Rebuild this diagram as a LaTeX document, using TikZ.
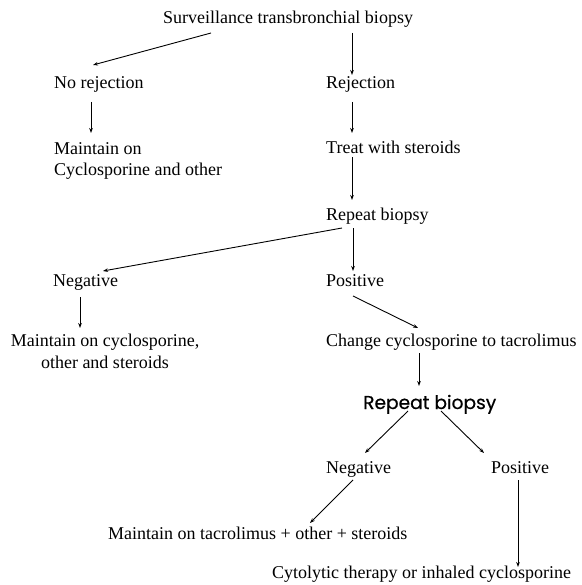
\documentclass[tikz,border=0pt]{standalone}
\usepackage{fontspec}
\setmainfont{Liberation Serif}
\newfontfamily\gothic[FakeBold=0.6]{Poppins}
\usetikzlibrary{arrows.meta}

\begin{document}
\begin{tikzpicture}[
  x=1pt, y=-1pt,
  >={Stealth[length=5pt,width=3.6pt]},
  txt/.style={inner sep=0pt, font=\fontsize{18}{21.5}\selectfont, anchor=base west},
  twoline/.style={inner sep=0pt, font=\fontsize{18}{21.5}\selectfont},
  sans/.style={inner sep=0pt, font=\gothic\fontsize{18.6}{22}\selectfont, anchor=base west},
  flow/.style={->, line width=0.9pt}
]
\useasboundingbox (0,0) rectangle (581,585);

\node[txt, anchor=base] (title) at (288,24) {Surveillance transbronchial biopsy};
\node[txt] (norej) at (54,89)  {No rejection};
\node[txt] (rej)   at (326,89) {Rejection};
\node[twoline, align=left, anchor=north west] (keepcyc) at (54,142) {Maintain on\\Cyclosporine and other};
\node[txt] (steroid) at (326,154) {Treat with steroids};
\node[txt] (rebiop)  at (326,220) {Repeat biopsy};
\node[txt] (neg) at (53,286)  {Negative};
\node[txt] (pos) at (326,286) {Positive};
\node[twoline, align=center, anchor=north] (keepall) at (105,334) {Maintain on cyclosporine,\\other and steroids};
\node[txt] (switch) at (326,346) {Change cyclosporine to tacrolimus};
\node[sans] (rebiopB) at (363,409) {Repeat biopsy};
\node[txt] (negB) at (326,473) {Negative};
\node[txt] (posB) at (491,473) {Positive};
\node[txt] (keeptac) at (108,539) {Maintain on tacrolimus + other + steroids};
\node[txt] (cyto) at (272,578) {Cytolytic therapy or inhaled cyclosporine};

% first biopsy
\draw[flow] ([xshift=-77pt,yshift=-9pt]title.base) -- ([xshift=39pt,yshift=24pt]norej.base west);
\draw[flow] ([xshift=64pt,yshift=-9pt]title.base) -- ([xshift=26pt,yshift=14pt]rej.base west);
\draw[flow] ([xshift=37pt,yshift=-13pt]norej.base west) -- ([xshift=37pt,yshift=9pt]keepcyc.north west);
\draw[flow] ([xshift=26pt,yshift=-13pt]rej.base west) -- ([xshift=26pt,yshift=21pt]steroid.base west);
\draw[flow] ([xshift=26pt,yshift=-3pt]steroid.base west) -- ([xshift=26pt,yshift=20pt]rebiop.base west);

% repeat biopsy
\draw[flow] ([xshift=16pt,yshift=-8pt]rebiop.base west) -- ([xshift=50pt,yshift=15pt]neg.base west);
\draw[flow] ([xshift=27pt,yshift=-8pt]rebiop.base west) -- ([xshift=27pt,yshift=15pt]pos.base west);
\draw[flow] ([xshift=27pt,yshift=-11pt]neg.base west) -- ([xshift=-25pt,yshift=6pt]keepall.north);
\draw[flow] ([xshift=27pt,yshift=-10pt]pos.base west) -- ([xshift=92pt,yshift=18pt]switch.base west);
\draw[flow] ([xshift=93pt,yshift=-7pt]switch.base west) -- ([xshift=56pt,yshift=23pt]rebiopB.base west);

% after tacrolimus
\draw[flow] ([xshift=45pt,yshift=-2pt]rebiopB.base west) -- ([xshift=39pt,yshift=20pt]negB.base west);
\draw[flow] ([xshift=78pt,yshift=-2pt]rebiopB.base west) -- ([xshift=-7pt,yshift=20pt]posB.base west);
\draw[flow] ([xshift=27pt,yshift=-7pt]negB.base west) -- ([xshift=202pt,yshift=16pt]keeptac.base west);
\draw[flow] ([xshift=27pt,yshift=-7pt]posB.base west) -- ([xshift=246pt,yshift=11pt]cyto.base west);
\end{tikzpicture}
\end{document}
